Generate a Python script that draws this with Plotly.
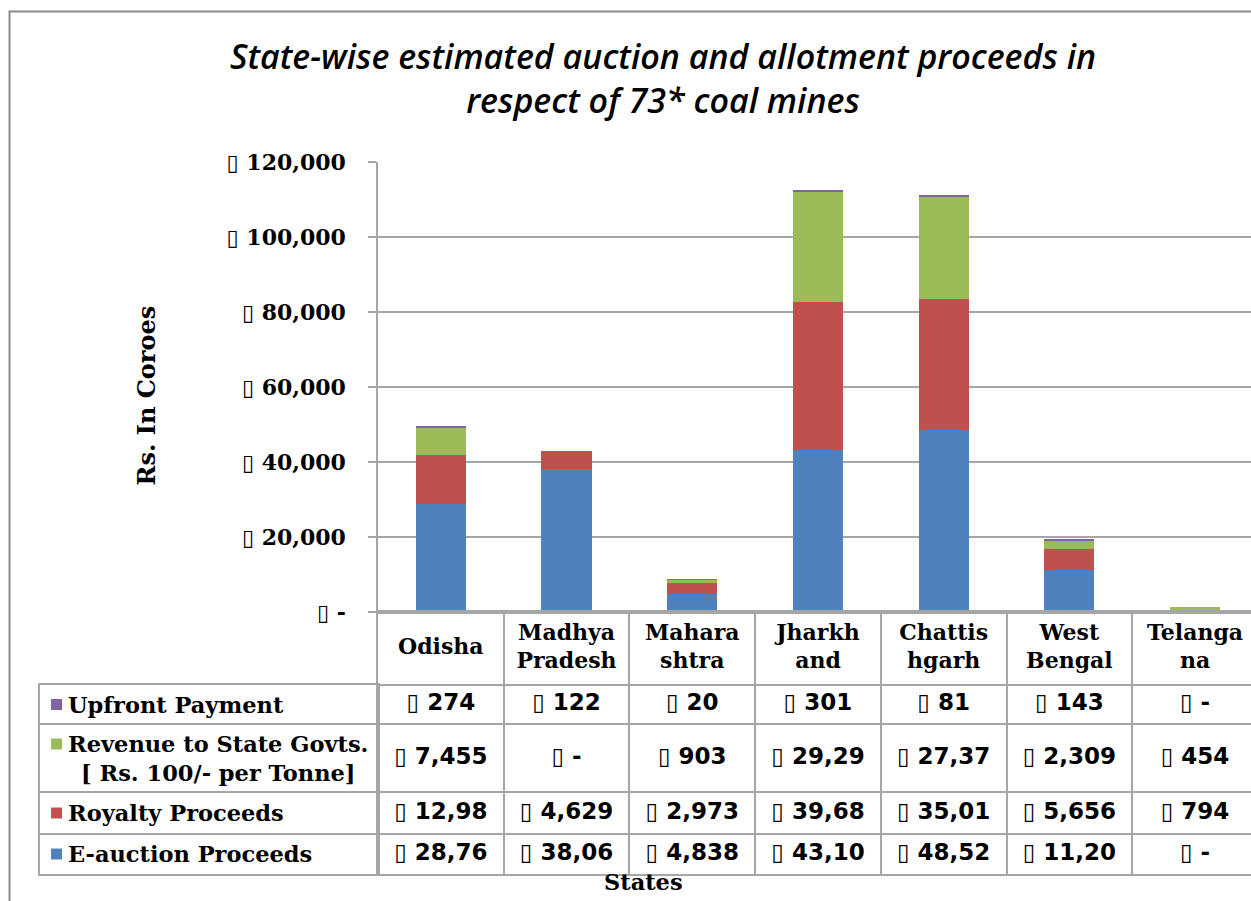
import plotly.graph_objects as go

# ---------------- data ----------------
states = ["Odisha", "Madhya Pradesh", "Maharashtra", "Jharkhand",
          "Chhattisgarh", "West Bengal", "Telangana"]
state_labels = ["Odisha", "Madhya<br>Pradesh", "Mahara<br>shtra", "Jharkh<br>and",
                "Chattis<br>hgarh", "West<br>Bengal", "Telanga<br>na"]

e_auction = [28765, 38065, 4838, 43105, 48525, 11205, 0]
royalty = [12985, 4629, 2973, 39685, 35015, 5656, 794]
revenue = [7455, 0, 903, 29295, 27375, 2309, 454]
upfront = [274, 122, 20, 301, 81, 143, 0]

# table text exactly as printed in the original (narrow cells truncate some numbers)
upfront_txt = ["274", "122", "20", "301", "81", "143", "-"]
revenue_txt = ["7,455", "-", "903", "29,29", "27,37", "2,309", "454"]
royalty_txt = ["12,98", "4,629", "2,973", "39,68", "35,01", "5,656", "794"]
eauction_txt = ["28,76", "38,06", "4,838", "43,10", "48,52", "11,20", "-"]

series_names = ["Upfront Payment", "Revenue to State Govts.<br>[ Rs. 100/- per Tonne]",
                "Royalty Proceeds", "E-auction Proceeds"]
y_ticks = [0, 20000, 40000, 60000, 80000, 100000, 120000]

title_text = "State-wise estimated auction and allotment proceeds in<br>respect of 73* coal mines"
y_title = "Rs. In Coroes"
x_title = "States"

# ---------------- style ----------------
W, H = 1251, 901
BOX = "\u25af"
C_BLUE, C_RED, C_GREEN, C_PURPLE = "#4F81BD", "#C0504D", "#9BBB59", "#8064A2"
GRID = "#a6a6a6"
SERIF = "DejaVu Serif"
SANS = "DejaVu Sans"


def fx(p):
    return p / W


def fy(p):
    return 1 - p / H


# pixel geometry of the chart/table
PLOT_L, PLOT_T, PLOT_B = 378, 162, 612
TABLE_L, TABLE_B = 40, 874
HEADER_H = 73
ROW_H = [39, 68, 42, 40]
COL_W = 125.7
x_range = [-0.5, -0.5 + (W - PLOT_L) / COL_W]

row_tops = [HEADER_H]
for h in ROW_H[:-1]:
    row_tops.append(row_tops[-1] + h)
row_centers = [t + h / 2 for t, h in zip(row_tops, ROW_H)]
total_h = HEADER_H + sum(ROW_H)
lab_h = sum(ROW_H)

fig = go.Figure()

# stacked bars
for name, vals, col in [("E-auction Proceeds", e_auction, C_BLUE),
                        ("Royalty Proceeds", royalty, C_RED),
                        ("Revenue to State Govts.", revenue, C_GREEN),
                        ("Upfront Payment", upfront, C_PURPLE)]:
    fig.add_trace(go.Bar(x=states, y=vals, name=name, marker_color=col,
                         marker_line_width=0, width=0.4, showlegend=False,
                         hoverinfo="skip"))

# header row (state names)
fig.add_trace(go.Scatter(x=states, y=[HEADER_H / 2] * len(states), text=state_labels,
                         mode="text", xaxis="x2", yaxis="y2", showlegend=False,
                         hoverinfo="skip",
                         textfont=dict(family=SERIF, size=22, color="black", weight="bold")))
# value rows
for txts, yc in zip([upfront_txt, revenue_txt, royalty_txt, eauction_txt], row_centers):
    fig.add_trace(go.Scatter(x=states, y=[yc] * len(states),
                             text=[BOX + " " + t for t in txts],
                             mode="text", xaxis="x2", yaxis="y2", showlegend=False,
                             hoverinfo="skip",
                             textfont=dict(family=SANS, size=23, color="black", weight="bold")))

# legend keys in the label column
lab_centers = [c - HEADER_H for c in row_centers]
key_y = []
for name, c in zip(series_names, lab_centers):
    nlines = name.count("<br>") + 1
    key_y.append(c - (nlines - 1) * 14)
fig.add_trace(go.Scatter(x=[0.049] * 4, y=key_y, mode="markers", xaxis="x3", yaxis="y3",
                         marker=dict(symbol="square", size=11,
                                     color=[C_PURPLE, C_GREEN, C_RED, C_BLUE]),
                         showlegend=False, hoverinfo="skip"))

annotations = []
for name, c in zip(series_names, lab_centers):
    annotations.append(dict(text=name, x=0.077, y=c, xref="x3", yref="y3",
                            xanchor="left", yanchor="middle", align="center",
                            showarrow=False,
                            font=dict(family=SERIF, size=22.5, color="black", weight="bold")))
annotations.append(dict(text=y_title, x=fx(130), y=fy(396), xref="paper", yref="paper",
                        textangle=-90, showarrow=False,
                        font=dict(family=SERIF, size=24, color="black", weight="bold")))
annotations.append(dict(text=x_title, x=fx(644), y=fy(882), xref="paper", yref="paper",
                        xanchor="center", yanchor="middle", showarrow=False,
                        font=dict(family=SERIF, size=22.5, color="black", weight="bold")))

fig.update_layout(
    width=W, height=H, autosize=False,
    margin=dict(l=0, r=0, t=0, b=0, pad=0),
    paper_bgcolor="white", plot_bgcolor="white",
    barmode="stack",
    title=dict(text="<i>" + title_text + "</i>", x=fx(663), y=fy(69),
               xanchor="center", yanchor="middle", automargin=False,
               font=dict(family="Open Sans", size=34, color="black", weight=600)),
    xaxis=dict(domain=[fx(PLOT_L), 1], range=x_range, type="category", automargin=False,
               categoryarray=states, showline=True, linecolor=GRID, linewidth=1.5,
               showgrid=False, showticklabels=False, ticks="", zeroline=False),
    yaxis=dict(domain=[fy(PLOT_B), fy(PLOT_T)], range=[0, 120000], automargin=False,
               tickvals=y_ticks,
               ticktext=[BOX + (" {:,}".format(v) if v else " -") for v in y_ticks],
               tickfont=dict(family=SERIF, size=22, color="black", weight="bold"),
               ticks="outside", ticklen=8, tickcolor=GRID, tickwidth=1.5,
               ticklabelstandoff=18,
               showline=True, linecolor=GRID, linewidth=1.5,
               showgrid=True, gridcolor=GRID, gridwidth=1.5, zeroline=False),
    xaxis2=dict(domain=[fx(PLOT_L), 1], range=x_range, type="category", automargin=False,
                categoryarray=states, anchor="y2", tickson="boundaries",
                showgrid=True, gridcolor=GRID, gridwidth=1.5,
                showticklabels=False, ticks="", zeroline=False,
                showline=True, mirror=True, linecolor=GRID, linewidth=1.5),
    yaxis2=dict(domain=[fy(TABLE_B), fy(PLOT_B)], range=[total_h, 0], anchor="x2",
                automargin=False,
                tickvals=row_tops, showgrid=True, gridcolor=GRID, gridwidth=1.5,
                showticklabels=False, ticks="", zeroline=False,
                showline=True, linecolor=GRID, linewidth=1.5),
    xaxis3=dict(domain=[fx(TABLE_L), fx(PLOT_L)], range=[0, 1], anchor="y3",
                automargin=False,
                showgrid=False, showticklabels=False, ticks="", zeroline=False,
                showline=True, mirror=True, linecolor=GRID, linewidth=1.5),
    yaxis3=dict(domain=[fy(TABLE_B), fy(PLOT_B + HEADER_H)], range=[lab_h, 0], anchor="x3",
                automargin=False,
                tickvals=[t - HEADER_H for t in row_tops[1:]],
                showgrid=True, gridcolor=GRID, gridwidth=1.5,
                showticklabels=False, ticks="", zeroline=False,
                showline=True, mirror=True, linecolor=GRID, linewidth=1.5),
    annotations=annotations,
    shapes=[dict(type="rect", xref="paper", yref="paper",
                 x0=fx(9.5), x1=1.05, y0=-0.05, y1=fy(11.5),
                 line=dict(color="#8c8c8c", width=2), layer="above")],
)

fig.write_html("out.html", include_plotlyjs=True, config={"displayModeBar": False},
               post_script="document.body.style.margin='0';document.body.style.overflow='hidden';")
